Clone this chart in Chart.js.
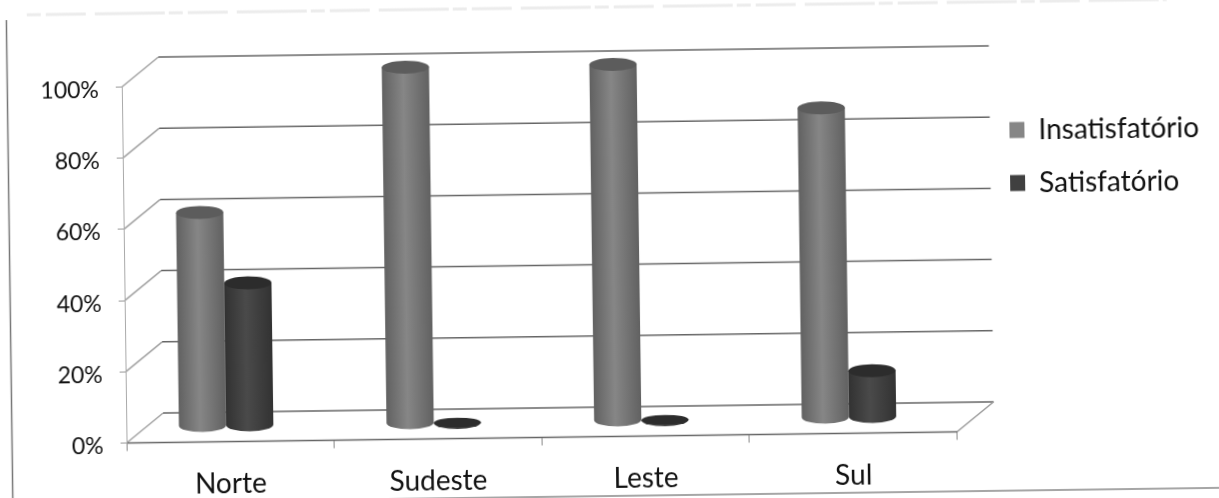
<!DOCTYPE html>
<html>
<head>
<meta charset="utf-8">
<style>
  html, body { margin: 0; width: 1219px; height: 498px; overflow: hidden; background: #fff; }
  /* the original is a slightly crooked scan */
  #chart { display: block; transform: rotate(-0.77deg); filter: blur(0.7px); }
</style>
<script src="https://cdn.jsdelivr.net/npm/chart.js@4"></script>
</head>
<body>
<canvas id="chart" width="1219" height="498"></canvas>
<script>
const categories = ['Norte', 'Sudeste', 'Leste', 'Sul'];
const insatisfatorio = [60, 100, 100, 87];
const satisfatorio = [40, 0, 0, 13];

// depth of the fake 3D box, and where the bars stand inside it
const DEPTH_X = 37, DEPTH_Y = -29.5;
const BAR_X = -4, BAR_Y = -16;
const CAP_RY = 6.5;

const shades = [
  { edge: '#616161', mid: '#868686', cap: '#5c5c5c' },
  { edge: '#323232', mid: '#4a4a4a', cap: '#2c2c2c' }
];

function line(ctx, x1, y1, x2, y2, color) {
  ctx.strokeStyle = color;
  ctx.beginPath();
  ctx.moveTo(x1, y1);
  ctx.lineTo(x2, y2);
  ctx.stroke();
}

function drawWalls(chart) {
  const ctx = chart.ctx;
  const area = chart.chartArea;
  const y = chart.scales.y;
  ctx.save();
  ctx.lineWidth = 1.5;
  y.ticks.forEach(t => {
    const py = y.getPixelForValue(t.value);
    line(ctx, area.left, py, area.left + DEPTH_X, py + DEPTH_Y, '#a0a0a0');
    line(ctx, area.left + DEPTH_X, py + DEPTH_Y, area.right + DEPTH_X, py + DEPTH_Y, '#666');
  });
  line(ctx, area.left, area.bottom, area.right, area.bottom, '#666');
  line(ctx, area.right, area.bottom, area.right + DEPTH_X, area.bottom + DEPTH_Y, '#999');
  ctx.restore();
}

function drawCylinder(ctx, el, shade) {
  const left = el.x - el.width / 2 + BAR_X;
  const right = el.x + el.width / 2 + BAR_X;
  const cx = el.x + BAR_X;
  const top = el.y + BAR_Y;
  const bottom = el.base + BAR_Y;
  const rx = el.width / 2;
  const grad = ctx.createLinearGradient(left, 0, right, 0);
  grad.addColorStop(0, shade.edge);
  grad.addColorStop(0.45, shade.mid);
  grad.addColorStop(1, shade.edge);
  ctx.fillStyle = grad;
  ctx.beginPath();
  ctx.moveTo(left, top);
  ctx.lineTo(left, bottom);
  ctx.ellipse(cx, bottom, rx, CAP_RY, 0, Math.PI, 0, true);
  ctx.lineTo(right, top);
  ctx.closePath();
  ctx.fill();
  ctx.fillStyle = shade.cap;
  ctx.beginPath();
  ctx.ellipse(cx, top, rx, bottom - top < 1 ? CAP_RY * 0.75 : CAP_RY, 0, 0, Math.PI * 2);
  ctx.fill();
}

function drawFrame(chart) {
  const ctx = chart.ctx;
  ctx.save();
  ctx.lineWidth = 1.5;
  line(ctx, 9.5, 12, 9.5, 498, '#777');
  line(ctx, 0, 496, 1219, 496, '#888');
  // illegible bleed-through at the top of the scan
  ctx.lineWidth = 3;
  ctx.setLineDash([14, 5, 40, 9, 70, 4]);
  line(ctx, 30, 7, 1170, 7, '#ececec');
  ctx.restore();
}

const cylinderPlugin = {
  id: 'cylinders',
  afterLayout(chart) {
    // keep the legend off the plot, in the empty strip on the right
    const legend = chart.legend;
    legend.left = 986;
    legend.right = 1219;
    legend.top = 96.5;
    legend.bottom = 260;
  },
  beforeDraw(chart) {
    drawFrame(chart);
    drawWalls(chart);
  },
  beforeDatasetsDraw(chart) {
    const ctx = chart.ctx;
    ctx.save();
    chart.data.datasets.forEach((ds, i) => {
      chart.getDatasetMeta(i).data.forEach(el => drawCylinder(ctx, el, shades[i]));
    });
    ctx.restore();
    return false; // the flat bars are replaced by the cylinders
  }
};

new Chart(document.getElementById('chart').getContext('2d'), {
  type: 'bar',
  data: {
    labels: categories,
    datasets: [
      { label: 'Insatisfatório', data: insatisfatorio, backgroundColor: '#868686', borderWidth: 0 },
      { label: 'Satisfatório', data: satisfatorio, backgroundColor: '#404040', borderWidth: 0 }
    ]
  },
  options: {
    responsive: false,
    animation: false,
    devicePixelRatio: 1,
    layout: { padding: { top: 80.5, right: 264.5, bottom: 0, left: 0 } },
    datasets: { bar: { categoryPercentage: 0.455, barPercentage: 1 } },
    plugins: {
      tooltip: { enabled: false },
      legend: {
        position: 'chartArea',
        align: 'start',
        labels: {
          boxWidth: 15,
          boxHeight: 16,
          padding: 25,
          color: '#111',
          font: { family: 'Lato', size: 28 }
        }
      }
    },
    scales: {
      x: {
        afterFit(scale) { scale.height = 61.5; },
        grid: { drawOnChartArea: false, tickLength: 8, color: '#888' },
        border: { color: '#666' },
        ticks: { color: '#111', padding: 18, font: { family: 'Lato', size: 28 }, maxRotation: 0 }
      },
      y: {
        min: 0,
        max: 100,
        afterFit(scale) { scale.width = 124; },
        grid: { drawOnChartArea: false, tickLength: 6, color: '#999' },
        border: { color: '#aaa' },
        ticks: {
          stepSize: 20,
          color: '#111',
          padding: 17,
          labelOffset: 3,
          font: { family: 'Lato', size: 23 },
          callback: v => v + '%'
        }
      }
    }
  },
  plugins: [cylinderPlugin]
});
</script>
</body>
</html>
